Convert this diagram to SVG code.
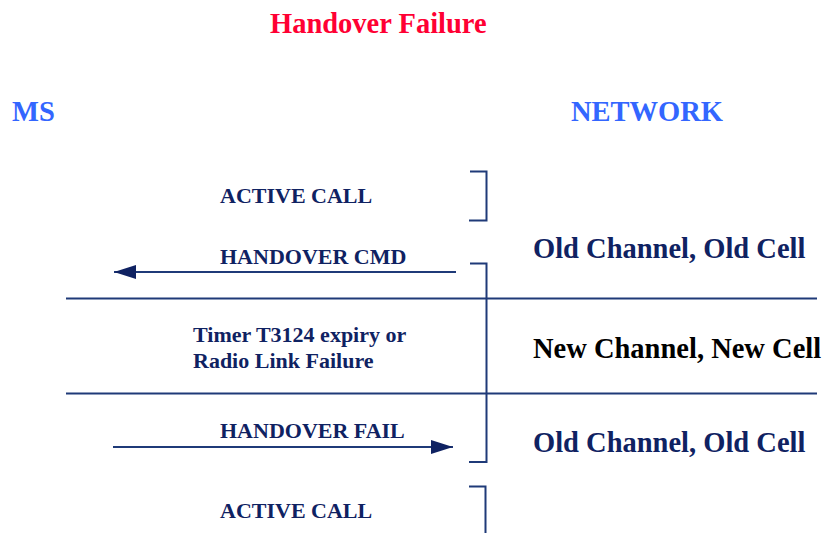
<svg xmlns="http://www.w3.org/2000/svg" width="824" height="533" viewBox="0 0 824 533">
  <style>
    text { font-family: "Liberation Serif", "Times New Roman", serif; font-weight: bold; }
    .title { font-size: 28.5px; fill: #ff0033; }
    .party { font-size: 28.5px; fill: #3366ff; }
    .msg { font-size: 22px; fill: #0f2262; }
    .state { font-size: 28.5px; fill: #0f2262; }
    .state-new { font-size: 28.5px; fill: #000000; }
    .line { stroke: #1f3a78; stroke-width: 2; fill: none; }
  </style>
  <defs>
    <marker id="arrow" viewBox="0 0 22 14" refX="22" refY="7" markerWidth="22" markerHeight="14" markerUnits="userSpaceOnUse" orient="auto">
      <path d="M0,0 L22,7 L0,14 Z" fill="#0f2262"/>
    </marker>
  </defs>
  <rect width="824" height="533" fill="#ffffff"/>

  <text class="title" x="270" y="33">Handover Failure</text>

  <g id="ms"><text class="party" x="12" y="121">MS</text></g>
  <g id="network"><text class="party" x="571" y="121">NETWORK</text></g>

  <!-- phase separators -->
  <g id="separators">
    <line class="line" x1="66" y1="298.5" x2="817" y2="298.5"/>
    <line class="line" x1="66" y1="393.5" x2="817" y2="393.5"/>
  </g>

  <!-- network-side brackets -->
  <g id="brackets">
    <path class="line" d="M470,171.5 H486.5 V220.5 H469"/>
    <path class="line" d="M470,263.5 H486.5 V462 H469"/>
    <path class="line" d="M469,486.5 H485.5 V533"/>
  </g>

  <g id="active-call-1"><text class="msg" x="220" y="203">ACTIVE CALL</text></g>
  <g id="timer"><text class="msg" x="193" y="342">Timer T3124 expiry or</text><text class="msg" x="193" y="368">Radio Link Failure</text></g>
  <g id="active-call-2"><text class="msg" x="220" y="518">ACTIVE CALL</text></g>

  <g id="state-old-1"><text class="state" x="533" y="258">Old Channel, Old Cell</text></g>
  <g id="state-new"><text class="state-new" x="533" y="358">New Channel, New Cell</text></g>
  <g id="state-old-2"><text class="state" x="533" y="452">Old Channel, Old Cell</text></g>

  <g id="connectors">
    <g id="handover-cmd">
      <line class="line" x1="456" y1="272" x2="114" y2="272" marker-end="url(#arrow)"/>
      <text class="msg" x="220" y="264">HANDOVER CMD</text>
    </g>
    <g id="handover-fail">
      <line class="line" x1="113" y1="447" x2="453" y2="447" marker-end="url(#arrow)"/>
      <text class="msg" x="220" y="438">HANDOVER FAIL</text>
    </g>
  </g>
</svg>
